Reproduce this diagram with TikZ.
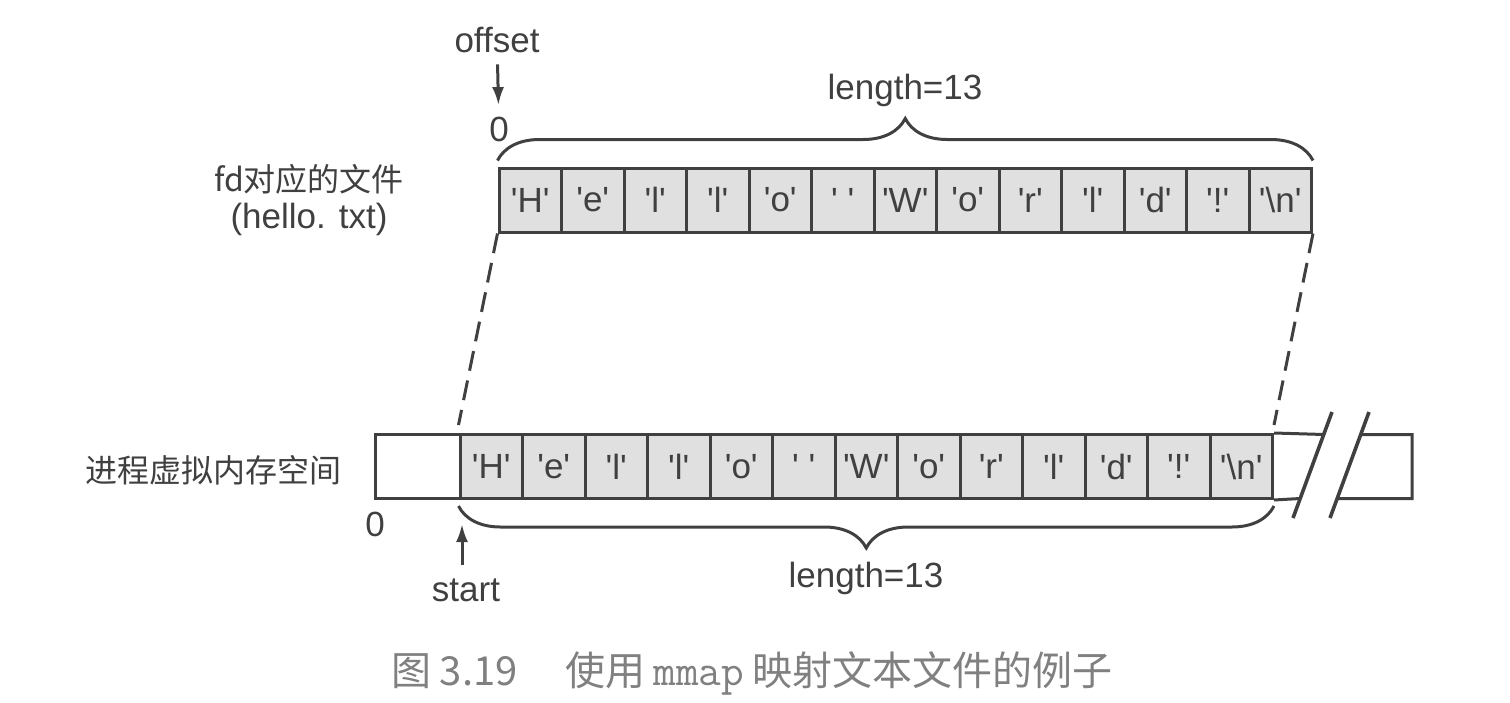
\documentclass[tikz,border=0pt]{standalone}
\usepackage{fontspec}
\setmainfont{Liberation Sans}
\newfontfamily\cjk{Noto Sans CJK SC}
\usepackage{tikz}
\usetikzlibrary{arrows.meta,decorations.pathreplacing}
\colorlet{ink}{black!75}
\newcommand*{\byte}[1]{\textquotesingle#1\textquotesingle}

\begin{document}
\begin{tikzpicture}[x=0.5pt, y=-0.5pt, line width=1.5pt, color=ink,
    lab/.style={font=\fontsize{17.5}{21}\selectfont, inner sep=1pt},
    cjklab/.style={font=\cjk\fontsize{16}{19}\selectfont, inner sep=1pt},
    brc/.style={decorate, decoration={brace, amplitude=21pt}},
    arr/.style={-{Latex[length=9pt, width=6pt]}}]
      \useasboundingbox (0,0) rectangle (1510,702);

      {\tikzstyle{every node}=[draw, fill=black!12, minimum width=31.25pt,
          minimum height=32pt, inner sep=0pt, font=\fontsize{17.5}{20}\selectfont]
        \foreach \c [count=\i from 0] in {H,e,l,l,o,\hspace{5pt},W,o,r,l,d,!,\textbackslash n}
        {
          \node (f\i) at (499+62.5*\i+31.25, 200) {\byte{\c}};
          \node (m\i) at (460+62.5*\i+31.25, 466.5) {\byte{\c}};
        }
        \node [fill=white, minimum width=42.5pt] (m) at (417.5, 466.5) {};
      }

      % rest of the address space, broken
      \draw (m12.north east) -- (1324,434.5) (1361,434.5) -| (1412,498.5)
        -- (1337,498.5) (1300,498.5) -- (m12.south east);
      \draw [line width=1.8pt] (1293,518) -- (1332,412) (1330,518) -- (1369,412);

      \draw [dash pattern=on 10pt off 5pt]
        (f0.south west) -- ([yshift=4pt]m0.north west)
        (f12.south east) -- ([yshift=4pt]m12.north east);

      \draw [brc] ([yshift=3pt]f0.north west) -- ([yshift=3pt]f12.north east);
      \draw [brc] ([yshift=-3pt]m12.south east) -- ([yshift=-3pt]m0.south west);

      \node [lab] (len1) at (905,90) {length=13};
      \node [lab] (len2) at (866,578) {length=13};

      \node [lab] (offset) at (497,40) {offset};
      \node [lab] (zero1) at (499,129) {0};
      \draw [arr, shorten <=4pt, shorten >=4pt] (offset) -- (zero1);

      \node [lab] (zero2) at (375,524) {0};
      \node [lab] (start) at (466,590) {start};
      \coordinate (startpt) at (462,524);
      \draw [arr, shorten <=5pt] (start.north -| startpt) -- (startpt);

      \node [cjklab] (file) at (309,179) {fd对应的文件};
      \node [lab] (fname) at (309,219) {(hello. txt)};
      \node [cjklab] (vmem) at (213,470) {进程虚拟内存空间};

      \node [font=\cjk\fontsize{20}{24}\selectfont, text=black!50] (caption) at (752,673)
        {图\hspace{4pt}3.19\hspace{24pt}使用\hspace{4pt}{\ttfamily\fontsize{22}{24}\selectfont mmap}\hspace{4pt}映射文本文件的例子};
    \end{tikzpicture}
\end{document}
